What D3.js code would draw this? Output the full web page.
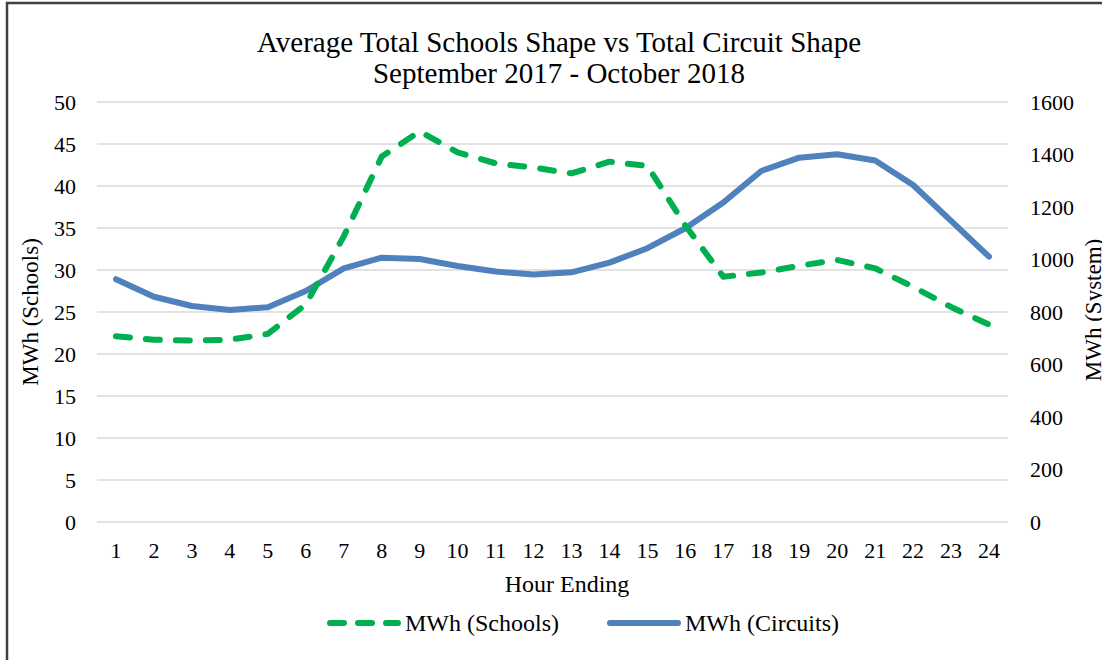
<!DOCTYPE html>
<html>
<head>
<meta charset="utf-8">
<script src="https://d3js.org/d3.v7.min.js"></script>
<style>
  body { margin: 0; background: #fff; }
  svg text { font-family: "Liberation Serif", "Times New Roman", serif; fill: #000; }
</style>
</head>
<body>
<div id="chart"></div>
<script>
// hour ending categories
const hours = d3.range(1, 25);

// MWh (Schools), left axis
const schools = [22.1, 21.7, 21.6, 21.7, 22.4, 25.9, 34.0, 43.5, 46.5, 44.0,
                 42.7, 42.2, 41.5, 42.9, 42.4, 35.3, 29.2, 29.7, 30.5, 31.2,
                 30.2, 28.0, 25.6, 23.5];

// MWh (Circuits), right axis
const circuits = [925, 858, 823, 808, 818, 880, 966, 1007, 1002, 975,
                  954, 943, 951, 988, 1043, 1119, 1217, 1337, 1388, 1401,
                  1377, 1284, 1147, 1011];

const leftTicks = [0, 5, 10, 15, 20, 25, 30, 35, 40, 45, 50];
const rightTicks = [0, 200, 400, 600, 800, 1000, 1200, 1400, 1600];

const GREEN = "#00B050";
const BLUE = "#4F81BD";
const FONT = "'Liberation Serif', 'Times New Roman', serif";

let width = 1102, height = 660;
let plot = { left: 97, right: 1008, top: 102, bottom: 522 };

let svg = d3.select("#chart")
  .append("svg")
  .attr("width", width)
  .attr("height", height)
  .attr("font-family", FONT);

// outer frame (runs off the right and bottom edges)
svg.append("rect")
  .attr("x", 7).attr("y", 3)
  .attr("width", 1200).attr("height", 700)
  .attr("fill", "none")
  .attr("stroke", "#404040")
  .attr("stroke-width", 2.5);

let x = d3.scaleBand()
  .domain(hours)
  .range([plot.left, plot.right]);

let yLeft = d3.scaleLinear()
  .domain([0, 50])
  .range([plot.bottom, plot.top]);

let yRight = d3.scaleLinear()
  .domain([0, 1600])
  .range([plot.bottom, plot.top]);

// gridlines
svg.append("g")
  .selectAll("line")
  .data(leftTicks)
  .enter().append("line")
  .attr("x1", plot.left).attr("x2", plot.right)
  .attr("y1", d => yLeft(d)).attr("y2", d => yLeft(d))
  .attr("stroke", "#d9d9d9")
  .attr("stroke-width", 1.5);

let styleAxis = function (g) {
  g.select(".domain").remove();
  g.attr("font-family", FONT).attr("font-size", 22);
  g.selectAll("text").attr("fill", "#000");
};

// left axis labels
svg.append("g")
  .attr("transform", "translate(76,0)")
  .call(d3.axisLeft(yLeft).tickValues(leftTicks).tickSize(0).tickPadding(0))
  .call(styleAxis);

// right axis labels
svg.append("g")
  .attr("transform", "translate(1030,0)")
  .call(d3.axisRight(yRight).tickValues(rightTicks).tickFormat(d3.format("d"))
    .tickSize(0).tickPadding(0))
  .call(styleAxis);

// x axis labels
svg.append("g")
  .attr("transform", "translate(0," + plot.bottom + ")")
  .call(d3.axisBottom(x).tickSize(0).tickPadding(20))
  .call(styleAxis);

// lines
let schoolsLine = d3.line()
  .x((d, i) => x(hours[i]) + x.bandwidth() / 2)
  .y(d => yLeft(d));

let circuitsLine = d3.line()
  .x((d, i) => x(hours[i]) + x.bandwidth() / 2)
  .y(d => yRight(d));

svg.append("path")
  .datum(circuits)
  .attr("d", circuitsLine)
  .attr("fill", "none")
  .attr("stroke", BLUE)
  .attr("stroke-width", 6)
  .attr("stroke-linejoin", "round")
  .attr("stroke-linecap", "round");

svg.append("path")
  .datum(schools)
  .attr("d", schoolsLine)
  .attr("fill", "none")
  .attr("stroke", GREEN)
  .attr("stroke-width", 6)
  .attr("stroke-dasharray", "14,16")
  .attr("stroke-linejoin", "round")
  .attr("stroke-linecap", "round");

// titles
svg.append("text")
  .attr("x", 559).attr("y", 52)
  .attr("text-anchor", "middle")
  .attr("font-size", 29)
  .text("Average Total Schools Shape vs Total Circuit Shape");

svg.append("text")
  .attr("x", 559).attr("y", 83)
  .attr("text-anchor", "middle")
  .attr("font-size", 29)
  .text("September 2017 - October 2018");

svg.append("text")
  .attr("x", 567).attr("y", 592)
  .attr("text-anchor", "middle")
  .attr("font-size", 24)
  .text("Hour Ending");

svg.append("text")
  .attr("transform", "translate(38,312) rotate(-90)")
  .attr("text-anchor", "middle")
  .attr("font-size", 23)
  .text("MWh (Schools)");

svg.append("text")
  .attr("transform", "translate(1101,310) rotate(-90)")
  .attr("text-anchor", "middle")
  .attr("font-size", 23)
  .text("MWh (System)");

// legend
let legendItems = [
  { label: "MWh (Schools)", color: GREEN, dash: true, x: 330 },
  { label: "MWh (Circuits)", color: BLUE, dash: false, x: 610 }
];

let legend = svg.selectAll(".legend")
  .data(legendItems)
  .enter().append("g")
  .attr("class", "legend")
  .attr("transform", d => "translate(" + d.x + ",623)");

legend.append("line")
  .attr("x1", 0).attr("x2", 68)
  .attr("y1", 0).attr("y2", 0)
  .attr("stroke", d => d.color)
  .attr("stroke-width", 6)
  .attr("stroke-linecap", "round")
  .attr("stroke-dasharray", d => d.dash ? "14,14" : null);

legend.append("text")
  .attr("x", 75).attr("y", 8)
  .attr("font-size", 24)
  .text(d => d.label);
</script>
</body>
</html>
